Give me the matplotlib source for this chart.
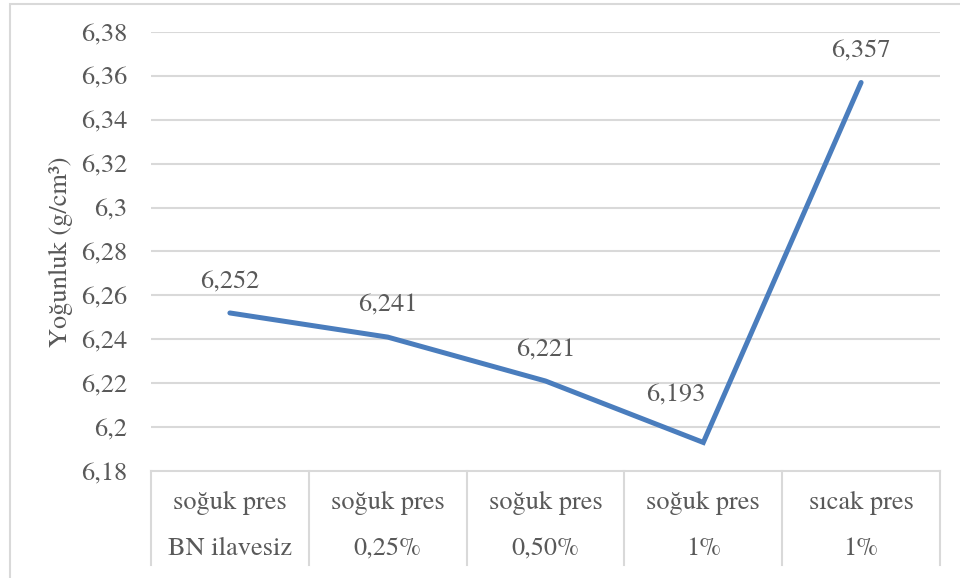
import matplotlib
matplotlib.use("Agg")
import matplotlib.pyplot as plt
from matplotlib import font_manager
from matplotlib.patches import Rectangle
from matplotlib.lines import Line2D

# Data
process = ["soğuk pres", "soğuk pres", "soğuk pres", "soğuk pres", "sıcak pres"]
additive = ["BN ilavesiz", "0,25%", "0,50%", "1%", "1%"]
density = [6.252, 6.241, 6.221, 6.193, 6.357]
y_ticks = [6.18, 6.20, 6.22, 6.24, 6.26, 6.28, 6.30, 6.32, 6.34, 6.36, 6.38]

TEXT = "#595959"
GRID = "#D9D9D9"
LINE = "#4A7DBD"
FS = 19

# Times-like serif face
names = {f.name for f in font_manager.fontManager.ttflist}
serif = [n for n in ["TeX Gyre Termes", "Tinos", "Liberation Serif",
                     "DejaVu Serif"] if n in names]
plt.rcParams["font.family"] = serif + ["DejaVu Serif"]

W, H = 960, 578
fig = plt.figure(figsize=(W / 100, H / 100), dpi=100)

# plot area in pixel coordinates
x0, x1 = 151, 940
ytop, ybot = 32, 471
ax = fig.add_axes([x0 / W, 1 - ybot / H, (x1 - x0) / W, (ybot - ytop) / H])

n = len(density)
xs = list(range(n))
ax.set_xlim(-0.5, n - 0.5)
ax.set_ylim(y_ticks[0], y_ticks[-1])

for v in y_ticks[1:]:
    ax.axhline(v, color=GRID, lw=1.5, zorder=1)

ax.plot(xs, density, color=LINE, lw=3.6, solid_capstyle="round",
        solid_joinstyle="miter", zorder=3)


def fmt(v):
    s = f"{v:.3f}".rstrip("0").rstrip(".")
    return s.replace(".", ",")


ax.set_yticks(y_ticks)
ax.set_yticklabels([fmt(v) for v in y_ticks])
ax.tick_params(axis="y", length=0, pad=17, labelsize=FS, labelcolor=TEXT)
ax.set_xticks([])
for s in ax.spines.values():
    s.set_visible(False)

# data labels
offsets = [(0, 22), (0, 23), (0, 22), (-20, 34), (0, 22)]
for x, v, off in zip(xs, density, offsets):
    ax.annotate(fmt(v), (x, v), xytext=off, textcoords="offset points",
                ha="center", va="center", fontsize=FS, color=TEXT, zorder=4)

# category axis as a table of two label rows
ax.add_line(Line2D([-0.5, n - 0.5], [0, 0], transform=ax.get_xaxis_transform(),
                   color=GRID, lw=1.5, clip_on=False))
box_bottom = -(565 - ybot) / (ybot - ytop)
for b in range(n + 1):
    ax.add_line(Line2D([b - 0.5, b - 0.5], [0, box_bottom],
                       transform=ax.get_xaxis_transform(),
                       color=GRID, lw=1.5, clip_on=False))
row1 = -(503 - ybot) / (ybot - ytop)
row2 = -(549 - ybot) / (ybot - ytop)
for x, p, a in zip(xs, process, additive):
    ax.text(x, row1, p, transform=ax.get_xaxis_transform(), ha="center",
            va="center", fontsize=FS, color=TEXT)
    ax.text(x, row2, a, transform=ax.get_xaxis_transform(), ha="center",
            va="center", fontsize=FS, color=TEXT)

# axis title
fig.text(61 / W, 1 - 252 / H, "Yoğunluk (g/cm³)", rotation=90, ha="center",
         va="center", fontsize=FS, color=TEXT)

# chart border
fig.add_artist(Rectangle((9.5 / W, -0.1), 1.2, (1 - 3.5 / H) + 0.1,
                         transform=fig.transFigure, fill=False,
                         edgecolor=GRID, lw=1.5))

fig.savefig("out.png", dpi=100)
